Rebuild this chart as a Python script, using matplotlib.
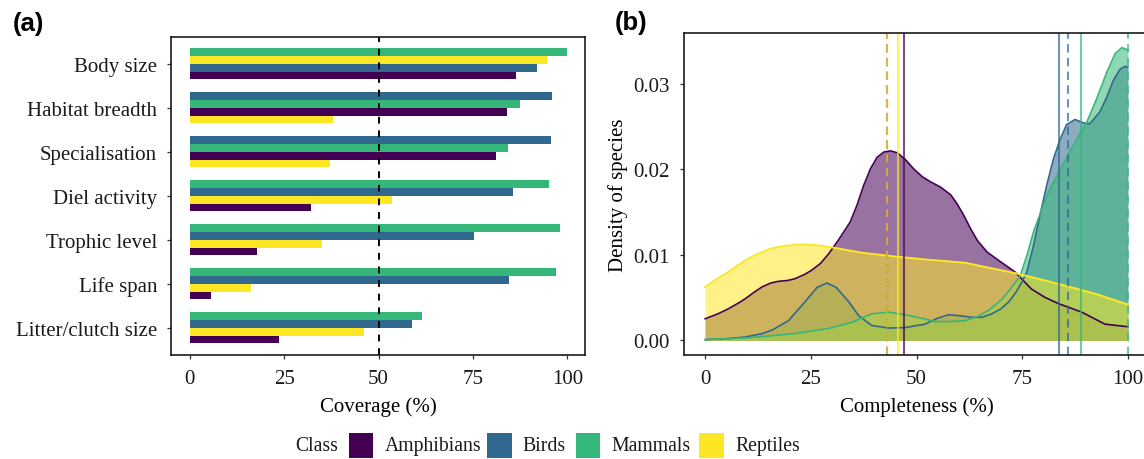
import matplotlib
matplotlib.use("Agg")
import matplotlib.pyplot as plt
import numpy as np
from matplotlib.patches import Rectangle

plt.rcParams['font.family'] = ['Liberation Serif', 'DejaVu Serif']

# Classes and colours (viridis, 4 levels)
classes = ['Amphibians', 'Birds', 'Mammals', 'Reptiles']
colours = {'Amphibians': '#440154', 'Birds': '#31688E',
           'Mammals': '#35B779', 'Reptiles': '#FDE725'}

# ---- panel (a): trait coverage (%) ----
traits = ['Body size', 'Habitat breadth', 'Specialisation', 'Diel activity',
          'Trophic level', 'Life span', 'Litter/clutch size']
cov_amphibians = [86.3, 83.9, 81.0, 32.0, 17.7, 5.6, 23.6]
cov_birds = [91.9, 95.9, 95.6, 85.5, 75.2, 84.5, 58.8]
cov_mammals = [99.8, 87.6, 84.2, 95.1, 98.0, 96.9, 61.4]
cov_reptiles = [94.5, 37.9, 37.1, 53.5, 35.0, 16.2, 46.1]
coverage = {'Amphibians': cov_amphibians, 'Birds': cov_birds,
            'Mammals': cov_mammals, 'Reptiles': cov_reptiles}

# ---- panel (b): density of species vs completeness (%) ----
amph_x = [0, 3, 5.5, 8, 9.5, 11.5, 13.4, 15.5, 17.3, 19.5, 21.2, 23.5, 25.2, 27.3,
          29.2, 31.5, 34.3, 35.9, 37.5, 39.1, 40.7, 42.3, 43.9, 45.5, 47.4, 49.4,
          51.4, 53.4, 55.7, 58.1, 59.6, 61.2, 62.8, 64.4, 66.7, 69.1, 73.3, 77.2,
          80.5, 83.6, 89.1, 94.6, 100]
amph_y = [0.00253, 0.0031, 0.0037, 0.0044, 0.00487, 0.0056, 0.00623, 0.0067,
          0.0069, 0.0070, 0.0072, 0.0077, 0.0082, 0.0090, 0.0101, 0.0117, 0.01382,
          0.01576, 0.0181, 0.02004, 0.0214, 0.0220, 0.02214, 0.0219, 0.0211,
          0.0200, 0.0191, 0.0185, 0.0179, 0.0170, 0.01596, 0.01459, 0.01304,
          0.01167, 0.01032, 0.00946, 0.0080, 0.0060, 0.0050, 0.0043, 0.0033,
          0.0019, 0.0016]
bird_x = [0, 5, 9.5, 13.5, 15.8, 19.7, 23.6, 26.5, 28.8, 31, 34, 36.3, 39.4, 43.4,
          47.3, 52, 55, 57.6, 60, 63.1, 65.5, 67.8, 70, 71.8, 73.5, 74.9, 76.1,
          77.7, 79.2, 80.8, 82.4, 84.0, 85.5, 87.5, 89.5, 91.0, 93.4, 95.0, 96.6,
          98.2, 99.3, 100]
bird_y = [0.0001, 0.0002, 0.0004, 0.0008, 0.0012, 0.0023, 0.0045, 0.0062, 0.0067,
          0.0062, 0.0045, 0.0029, 0.00175, 0.00145, 0.0015, 0.0019, 0.0026, 0.0030,
          0.0029, 0.0027, 0.0027, 0.0031, 0.0037, 0.0045, 0.0056, 0.0068, 0.0080,
          0.0111, 0.0146, 0.0181, 0.0212, 0.0235, 0.0252, 0.0258, 0.0254, 0.0253,
          0.0267, 0.0284, 0.0304, 0.0317, 0.0320, 0.0319]
mamm_x = [0, 10, 21.2, 29.2, 34.7, 39.4, 43.4, 47.3, 52, 54.4, 58, 61.5, 64.5, 67,
          70.2, 72.2, 74.5, 76.1, 77.7, 80.8, 84.0, 87.1, 90.3, 92.6, 95.0, 97.0,
          98.6, 100]
mamm_y = [0.0001, 0.0003, 0.0008, 0.0014, 0.0021, 0.0031, 0.0033, 0.0030, 0.0025,
          0.0022, 0.0022, 0.0023, 0.0028, 0.0035, 0.0048, 0.0060, 0.0075, 0.0099,
          0.0127, 0.0169, 0.0200, 0.0228, 0.0255, 0.0282, 0.0313, 0.0335, 0.0342,
          0.0339]
rept_x = [0, 2.5, 5.5, 7.5, 9.5, 11.5, 13.4, 15.5, 17.3, 20, 22.1, 24.5, 26.8,
          30.7, 37.1, 44.9, 52, 61.5, 67, 73.3, 78, 83.6, 92.3, 100]
rept_y = [0.00623, 0.0071, 0.0080, 0.0087, 0.00934, 0.0099, 0.0103, 0.0107, 0.0109,
          0.0111, 0.0112, 0.0112, 0.0111, 0.0108, 0.01024, 0.0098, 0.00946,
          0.00907, 0.0085, 0.00786, 0.0073, 0.0066, 0.00545, 0.0042]
dens = {'Amphibians': (amph_x, amph_y), 'Birds': (bird_x, bird_y),
        'Mammals': (mamm_x, mamm_y), 'Reptiles': (rept_x, rept_y)}
mean_compl = {'Amphibians': 47.1, 'Birds': 83.7, 'Mammals': 88.9, 'Reptiles': 45.6}
median_compl = {'Amphibians': 43.0, 'Birds': 85.8, 'Mammals': 100.0, 'Reptiles': 43.0}

W, H = 1144, 460
fig = plt.figure(figsize=(W / 100, H / 100), dpi=100)

def box(l, t, r, b):
    return [l / W, 1 - b / H, (r - l) / W, (b - t) / H]

ax1 = fig.add_axes(box(171, 38, 585, 355.7))
ax2 = fig.add_axes(box(684, 34, 1149, 356))

fs = 15
tick_col = '#333333'

# panel a bars, sorted within each trait so largest is on top
bh = 0.177
for i, t in enumerate(traits):
    vals = [(coverage[c][i], c) for c in classes]
    vals.sort(key=lambda v: -v[0])
    for r, (v, c) in enumerate(vals):
        ax1.barh(i + (r - 1.5) * bh, v, height=bh, color=colours[c], lw=0)
ax1.axvline(50, color='black', lw=1.4, ls=(0, (3.5, 3.5)))
ax1.set_xlim(-5.0, 104.7)
ax1.set_ylim(len(traits) - 1 + 0.61, -0.61)
ax1.set_yticks(range(len(traits)))
ax1.set_yticklabels(traits)
ax1.set_xticks([0, 25, 50, 75, 100])
ax1.set_xlabel('Coverage (%)', fontsize=fs, labelpad=6)

# panel b densities
for c in classes:
    x, y = dens[c]
    ax2.fill_between(x, 0, y, color=colours[c], alpha=0.55, lw=0)
    ax2.plot(x, y, color=colours[c], lw=1.4 if c == 'Reptiles' else 1.2,
             solid_joinstyle='round')
for c in classes:
    ax2.axvline(mean_compl[c], color=colours[c], alpha=0.7, lw=1.5)
    ax2.axvline(median_compl[c], color=colours[c], alpha=0.7, lw=1.5,
                ls=(0, (4, 2.6)))
ax2.set_xlim(-5, 105)
ax2.set_ylim(-0.0017, 0.0359)
ax2.set_xticks([0, 25, 50, 75, 100])
ax2.set_yticks([0, 0.01, 0.02, 0.03])
ax2.set_yticklabels(['0.00', '0.01', '0.02', '0.03'])
ax2.set_xlabel('Completeness (%)', fontsize=fs, labelpad=6)
ax2.set_ylabel('Density of species', fontsize=fs, labelpad=4)

for ax in (ax1, ax2):
    for s in ax.spines.values():
        s.set_linewidth(1.2)
        s.set_color('#1a1a1a')
    ax.tick_params(labelsize=fs, length=3, width=0.9, color=tick_col,
                   labelcolor='#1a1a1a', pad=7)

fig.text(12.5 / W, 1 - 24 / H, '(a)', family='Liberation Sans', weight='bold',
         fontsize=18.5, va='center', ha='left')
fig.text(615 / W, 1 - 23 / H, '(b)', family='Liberation Sans', weight='bold',
         fontsize=18.5, va='center', ha='left')

# legend, laid out by hand along the bottom
leg_y = 446.7
fig.text(295 / W, 1 - leg_y / H, 'Class', fontsize=14.2, ha='left', va='center',
         color='#1a1a1a')
key_left = [349, 487.3, 576, 699.3]
label_left = [385, 522.3, 611, 735]
for c, kx, tx in zip(classes, key_left, label_left):
    fig.patches.append(Rectangle((kx / W, 1 - 459.3 / H), 24.3 / W, 25.3 / H,
                                 transform=fig.transFigure, facecolor=colours[c],
                                 edgecolor='none'))
    fig.text(tx / W, 1 - leg_y / H, c, fontsize=14.2, ha='left', va='center',
             color='#1a1a1a')

fig.savefig('out.png', dpi=100)
